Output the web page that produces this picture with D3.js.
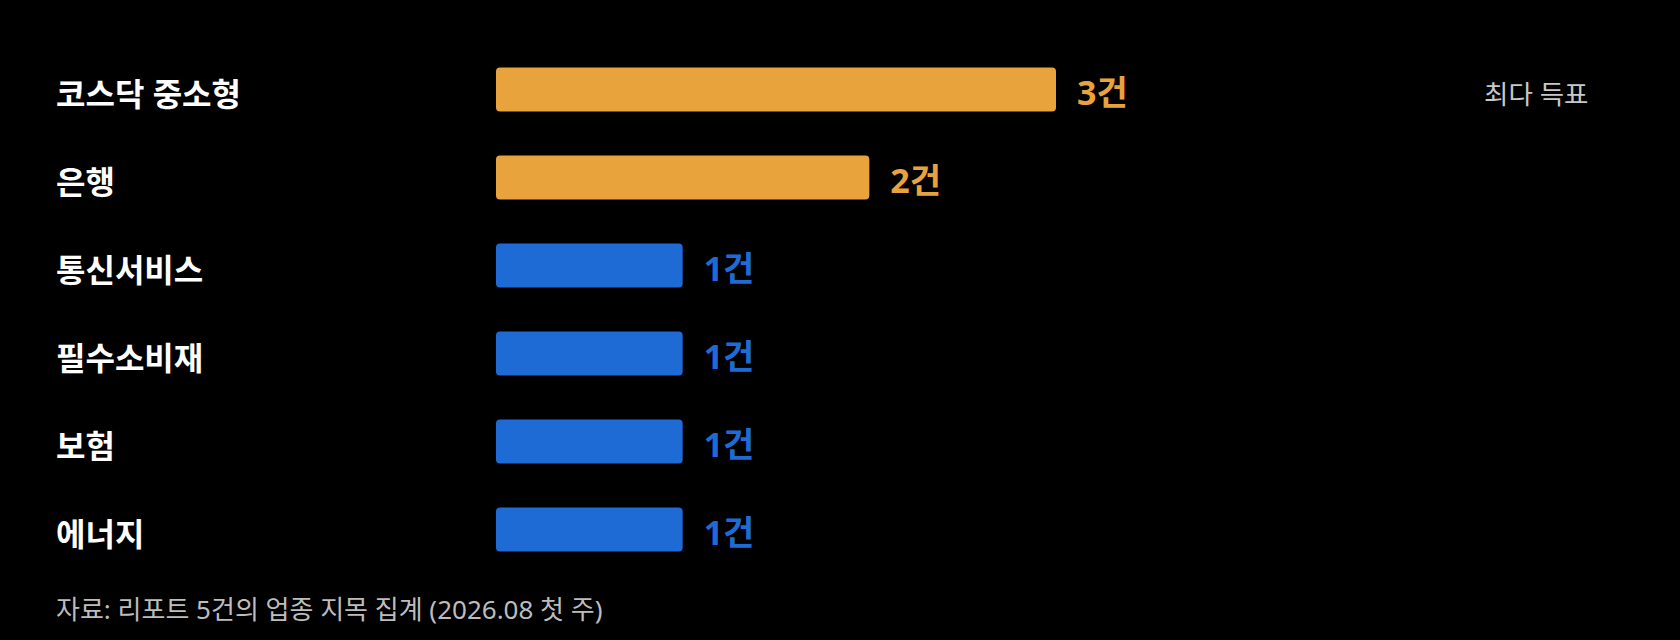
<!DOCTYPE html>
<html>
<head>
<meta charset="utf-8">
<script src="https://cdn.jsdelivr.net/npm/d3@7"></script>
<style>
  html, body { margin: 0; padding: 0; background: #000; }
  svg text { font-family: "Noto Sans", "Noto Sans CJK KR", sans-serif; }
</style>
</head>
<body>
<div id="chart"></div>
<script>
// sectors picked in the reports, and how many reports named each
var sectors = ['코스닥 중소형', '은행', '통신서비스', '필수소비재', '보험', '에너지'];
var counts = [3, 2, 1, 1, 1, 1];
var topSectors = ['코스닥 중소형', '은행'];   // highlighted in orange
var badge = '최다 득표';
var note = '자료: 리포트 5건의 업종 지목 집계 (2026.08 첫 주)';

var width = 1680, height = 640;
var barLeft = 496;

var svg = d3.select('#chart').append('svg')
  .attr('width', width)
  .attr('height', height)

svg.append('rect')
  .attr('width', width)
  .attr('height', height)
  .attr('fill', '#000')

var x = d3.scaleLinear()
  .domain([0, 3])
  .range([0, 560])

var y = d3.scaleBand()
  .domain(sectors)
  .range([45.5, 573.5])
  .paddingInner(0.5)
  .paddingOuter(0.25)

var rows = sectors.map(function(s, i) { return {sector: s, count: counts[i]}; });

function colour(d) {
  return topSectors.indexOf(d.sector) >= 0 ? '#E8A33C' : '#1F6BD6';
}

function mid(d) { return y(d.sector) + y.bandwidth() / 2; }

// category labels on the left
svg.selectAll('.label')
  .data(rows)
  .enter()
  .append('text')
  .attr('class', 'label')
  .attr('x', 56)
  .attr('y', function(d) { return mid(d) + 16; })
  .attr('fill', '#fff')
  .attr('font-size', 32)
  .attr('font-weight', 700)
  .text(function(d) { return d.sector; })

svg.selectAll('.bar')
  .data(rows)
  .enter()
  .append('rect')
  .attr('class', 'bar')
  .attr('x', barLeft)
  .attr('y', function(d) { return y(d.sector); })
  .attr('width', function(d) { return x(d.count); })
  .attr('height', y.bandwidth())
  .attr('rx', 4)
  .attr('fill', colour)

// value labels at the bar ends
svg.selectAll('.value')
  .data(rows)
  .enter()
  .append('text')
  .attr('class', 'value')
  .attr('x', function(d) { return barLeft + x(d.count) + 21; })
  .attr('y', function(d) { return mid(d) + 15.5; })
  .attr('fill', colour)
  .attr('font-size', 34)
  .attr('font-weight', 700)
  .text(function(d) { return d.count + '건'; })

svg.append('text')
  .attr('x', 1484)
  .attr('y', mid(rows[0]) + 14)
  .attr('fill', '#c8c8c8')
  .attr('font-size', 26.5)
  .text(badge)

svg.append('text')
  .attr('x', 56)
  .attr('y', 619)
  .attr('fill', '#bdbdbd')
  .attr('font-size', 26)
  .text(note)
</script>
</body>
</html>
